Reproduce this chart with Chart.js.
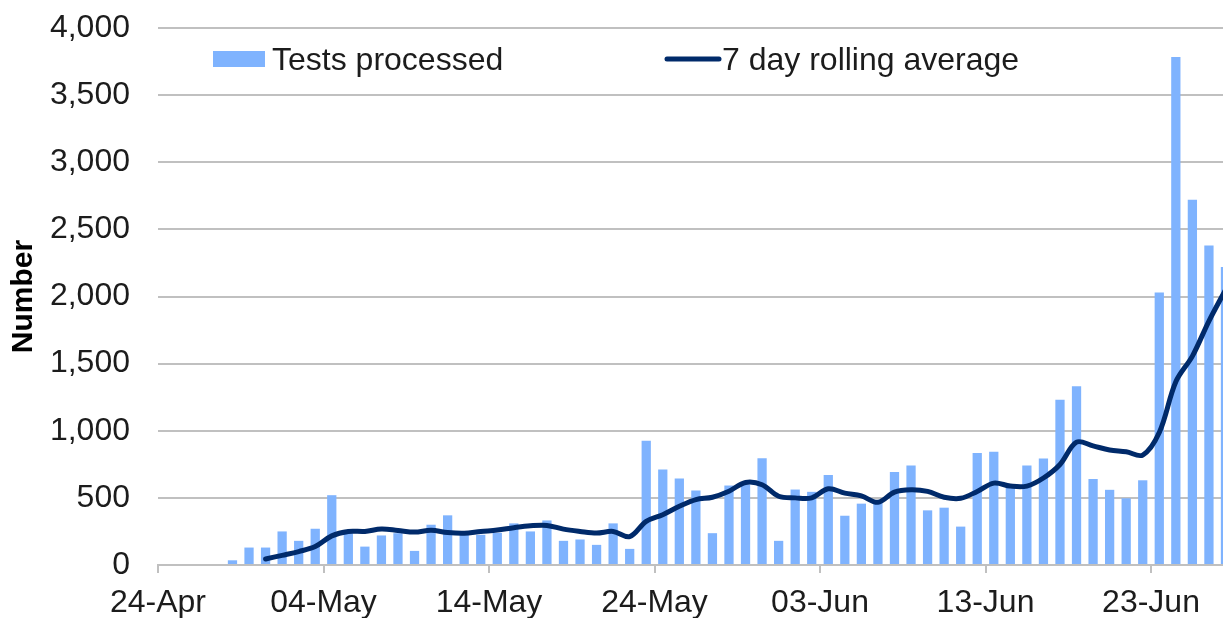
<!DOCTYPE html>
<html>
<head>
<meta charset="utf-8">
<title>Tests processed</title>
<script src="https://cdn.jsdelivr.net/npm/chart.js@4.4.1/dist/chart.umd.min.js"></script>
<style>
  body { margin: 0; background: #fff; }
  #wrap { width: 1223px; height: 618px; }
</style>
</head>
<body>
<div id="wrap"><canvas id="tests-chart" width="1223" height="618"></canvas></div>
<script>
// one entry per day, 24-Apr to 27-Jun
const days = [
  '24-Apr', '25-Apr', '26-Apr', '27-Apr', '28-Apr', '29-Apr', '30-Apr',
  '01-May', '02-May', '03-May', '04-May', '05-May', '06-May', '07-May', '08-May', '09-May', '10-May',
  '11-May', '12-May', '13-May', '14-May', '15-May', '16-May', '17-May', '18-May', '19-May', '20-May',
  '21-May', '22-May', '23-May', '24-May', '25-May', '26-May', '27-May', '28-May', '29-May', '30-May', '31-May',
  '01-Jun', '02-Jun', '03-Jun', '04-Jun', '05-Jun', '06-Jun', '07-Jun', '08-Jun', '09-Jun', '10-Jun',
  '11-Jun', '12-Jun', '13-Jun', '14-Jun', '15-Jun', '16-Jun', '17-Jun', '18-Jun', '19-Jun', '20-Jun',
  '21-Jun', '22-Jun', '23-Jun', '24-Jun', '25-Jun', '26-Jun', '27-Jun'
]

const testsProcessed = [
  null, null, null, null, 35, 130, 130,
  250, 180, 270, 520, 237, 137, 220, 237, 105, 300,
  370, 225, 225, 240, 310, 250, 332, 180, 190, 150,
  310, 120, 925, 712, 645, 555, 237, 592, 600, 795, 180,
  562, 545, 671, 367, 457, 475, 693, 741, 407, 427,
  286, 834, 844, 578, 741, 794, 1231, 1332, 641, 560,
  497, 631, 2030, 3784, 2721, 2379, 2220
]

const rollingAverage = [
  null, null, null, null, null, null, 45,
  72, 100, 137, 217, 250, 250, 268, 257, 245, 258,
  242, 237, 250, 260, 278, 292, 295, 267, 250, 238,
  250, 212, 325, 375, 437, 487, 505, 550, 615, 598, 512,
  500, 500, 568, 535, 515, 467, 543, 560, 548, 505,
  497, 548, 610, 588, 588, 648, 749, 915, 887, 857,
  844, 819, 987, 1365, 1556, 1817, 2050
]

const tickEvery = 10
const barColour = '#7fb3fe'
const lineColour = '#002a6a'
const gridColour = '#c0c0c0'
const textColour = '#1c1c1c'
const fontFamily = '"Liberation Sans", Arial, sans-serif'
const fontSize = 32

Chart.defaults.font.family = fontFamily
Chart.defaults.color = textColour

// legend sits inside the plot, like the original
const insideLegend = {
  id: 'insideLegend',
  afterDraw(chart) {
    const ctx = chart.ctx
    const area = chart.chartArea
    const line = chart.data.datasets[0]
    const bars = chart.data.datasets[1]
    ctx.save()
    ctx.font = fontSize + 'px ' + fontFamily
    ctx.textBaseline = 'alphabetic'

    ctx.fillStyle = bars.backgroundColor
    ctx.fillRect(area.left + 55, area.top + 23, 52, 16)
    ctx.fillStyle = textColour
    ctx.fillText(bars.label, area.left + 114, area.top + 42)

    ctx.strokeStyle = line.borderColor
    ctx.lineWidth = 5
    ctx.lineCap = 'round'
    ctx.beginPath()
    ctx.moveTo(area.left + 509, area.top + 31)
    ctx.lineTo(area.left + 561, area.top + 31)
    ctx.stroke()
    ctx.fillText(line.label, area.left + 564, area.top + 42)
    ctx.restore()
  }
}

let ctx = document.getElementById('tests-chart').getContext('2d')

let chart = new Chart(ctx, {
  type: 'bar',
  data: {
    datasets: [
      {
        type: 'line',
        label: '7 day rolling average',
        data: rollingAverage.map(function(v, i) { return { x: i + 0.5, y: v } }),
        borderColor: lineColour,
        borderWidth: 5,
        borderCapStyle: 'round',
        borderJoinStyle: 'round',
        pointRadius: 0,
        tension: 0.35,
        order: 0
      },
      {
        type: 'bar',
        label: 'Tests processed',
        data: testsProcessed.map(function(v, i) { return { x: i + 0.5, y: v } }),
        backgroundColor: barColour,
        barPercentage: 0.56,
        categoryPercentage: 1,
        order: 1
      }
    ]
  },
  options: {
    responsive: false,
    animation: false,
    layout: { padding: { top: 28, right: 0, bottom: 0, left: 0 } },
    plugins: {
      legend: { display: false },
      tooltip: { enabled: false }
    },
    scales: {
      x: {
        type: 'linear',
        min: 0,
        max: 64.35,
        offset: false,
        grid: { offset: false, drawOnChartArea: false, drawTicks: true, tickLength: 8, color: gridColour, lineWidth: 2 },
        border: { display: true, color: gridColour, width: 2 },
        ticks: {
          padding: 11,
          maxRotation: 0,
          autoSkip: false,
          font: { size: fontSize },
          callback: function(v) { return days[v] }
        },
        afterBuildTicks: function(scale) {
          scale.ticks = days
            .map(function(d, i) { return i })
            .filter(function(i) { return i % tickEvery === 0 })
            .map(function(i) { return { value: i } })
        },
        afterFit: function(scale) { scale.height = 53 }
      },
      y: {
        min: 0,
        max: 4000,
        ticks: {
          stepSize: 500,
          padding: 0,
          font: { size: fontSize },
          callback: function(v) { return v.toLocaleString('en-US') }
        },
        grid: { color: gridColour, lineWidth: 2, drawTicks: true, tickLength: 28, tickColor: 'rgba(0,0,0,0)' },
        border: { display: false },
        title: {
          display: true,
          text: 'Number',
          color: '#000',
          font: { size: 30, weight: 'bold' },
          padding: { top: 6, bottom: 0 }
        },
        afterFit: function(scale) { scale.width = 158 }
      }
    }
  },
  plugins: [insideLegend]
})
</script>
</body>
</html>
